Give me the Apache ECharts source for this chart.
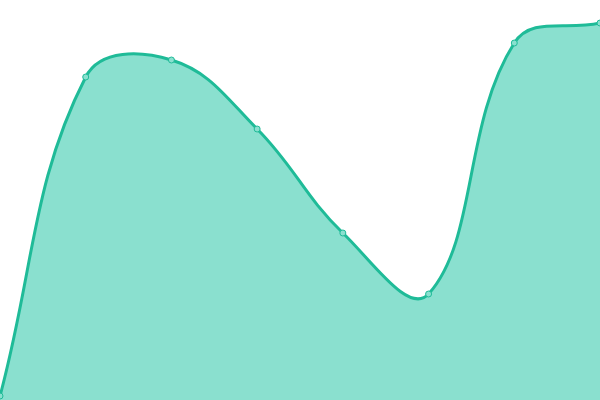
<!DOCTYPE html>
<html>
<head>
<meta charset="utf-8">
<script src="https://cdn.jsdelivr.net/npm/echarts@6/dist/echarts.min.js"></script>
<style>html,body{margin:0;padding:0;background:#fff}#c{width:600px;height:400px}</style>
</head>
<body>
<div id="c"></div>
<script>
const categories = ['1','2','3','4','5','6','7','8'];
const values = [4, 323, 340, 271, 167, 106, 357, 377];
const tension = 0.4;
const lineColor = '#1fbb98';
const areaColor = '#8ae0cf';

function splinePath(pts) {
  const cps = pts.map((p, i) => {
    const prev = pts[i - 1] || p, next = pts[i + 1] || p;
    const d01 = Math.hypot(p[0] - prev[0], p[1] - prev[1]);
    const d12 = Math.hypot(next[0] - p[0], next[1] - p[1]);
    const tot = d01 + d12 || 1;
    const fa = tension * d01 / tot, fb = tension * d12 / tot;
    const vx = next[0] - prev[0], vy = next[1] - prev[1];
    return {prev: [p[0] - fa * vx, p[1] - fa * vy], next: [p[0] + fb * vx, p[1] + fb * vy]};
  });
  let d = 'M' + pts[0][0] + ',' + pts[0][1];
  for (let i = 1; i < pts.length; i++) {
    const a = cps[i - 1].next, b = cps[i].prev, p = pts[i];
    d += ' C' + a[0] + ',' + a[1] + ' ' + b[0] + ',' + b[1] + ' ' + p[0] + ',' + p[1];
  }
  return d;
}

const chart = echarts.init(document.getElementById('c'));
chart.setOption({
  animation: false,
  grid: {left: 0, right: 0, top: 0, bottom: 0},
  xAxis: {type: 'category', data: categories, boundaryGap: false, show: false},
  yAxis: {type: 'value', min: 0, max: 400, show: false},
  series: [{
    type: 'custom',
    data: values.map((v, i) => [i, v]),
    clip: true,
    renderItem: function (params, api) {
      if (params.dataIndex !== 0) return null;
      const pts = values.map((v, i) => api.coord([i, v]));
      const base = api.coord([0, 0])[1];
      const line = splinePath(pts);
      const area = line + ' L' + pts[pts.length - 1][0] + ',' + base + ' L' + pts[0][0] + ',' + base + ' Z';
      return {
        type: 'group',
        children: [
          {type: 'path', shape: {pathData: area}, style: {fill: areaColor, stroke: null}},
          {type: 'path', shape: {pathData: line}, style: {fill: null, stroke: lineColor, lineWidth: 3}}
        ]
      };
    }
  }, {
    type: 'line',
    data: values,
    symbol: 'circle',
    symbolSize: 6,
    z: 5,
    itemStyle: {color: areaColor, borderColor: lineColor, borderWidth: 1},
    lineStyle: {opacity: 0}
  }]
});
</script>
</body>
</html>
